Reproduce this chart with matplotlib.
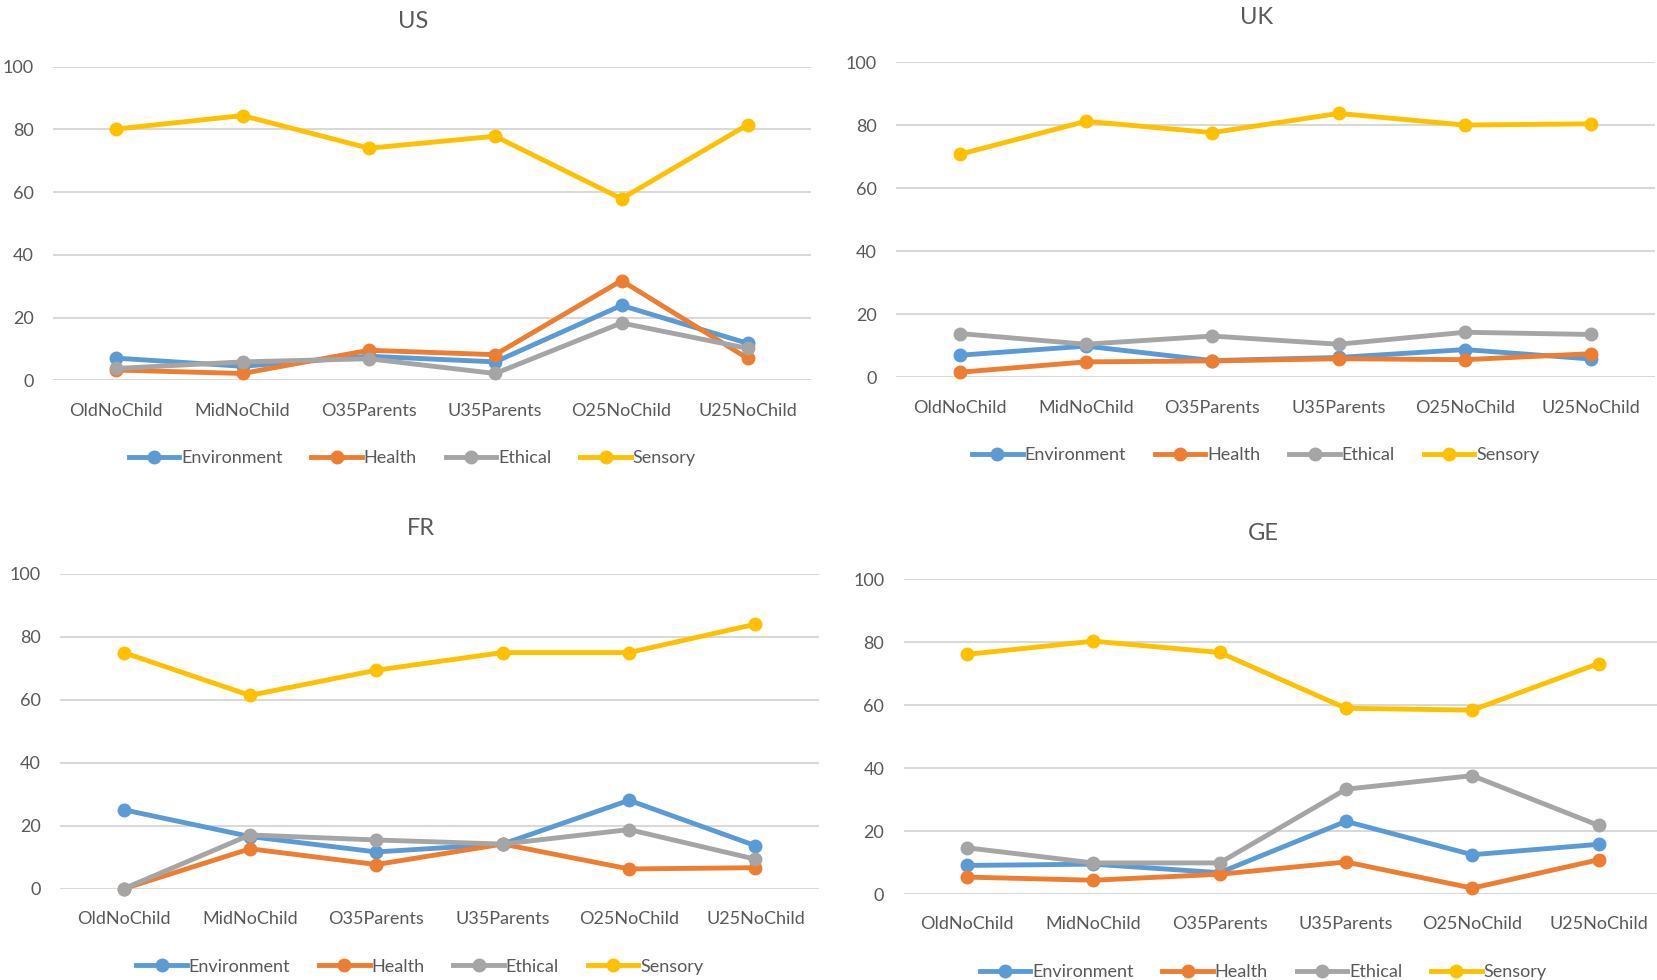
import matplotlib
matplotlib.use("Agg")
import matplotlib.pyplot as plt

categories = ["OldNoChild", "MidNoChild", "O35Parents", "U35Parents", "O25NoChild", "U25NoChild"]
series_names = ["Environment", "Health", "Ethical", "Sensory"]

us_environment = [7.1, 4.5, 7.7, 5.9, 23.9, 11.8]
us_health = [3.3, 2.2, 9.6, 8.2, 31.8, 7.0]
us_ethical = [3.8, 5.9, 6.9, 2.2, 18.3, 10.2]
us_sensory = [80.1, 84.4, 74.0, 77.8, 57.9, 81.5]

uk_environment = [7.0, 9.9, 5.3, 6.3, 8.8, 5.8]
uk_health = [1.6, 4.9, 5.2, 5.9, 5.6, 7.5]
uk_ethical = [13.9, 10.5, 13.1, 10.5, 14.3, 13.6]
uk_sensory = [70.8, 81.3, 77.7, 83.8, 80.1, 80.5]

fr_environment = [25.1, 16.6, 11.7, 14.2, 28.1, 13.7]
fr_health = [0.0, 12.7, 7.7, 14.2, 6.3, 6.7]
fr_ethical = [0.0, 17.1, 15.5, 14.2, 18.8, 9.4]
fr_sensory = [75.0, 61.4, 69.4, 75.0, 75.0, 84.0]

ge_environment = [9.1, 9.5, 6.8, 23.1, 12.5, 15.8]
ge_health = [5.4, 4.4, 6.3, 10.2, 1.9, 10.9]
ge_ethical = [14.7, 9.9, 9.9, 33.3, 37.6, 21.8]
ge_sensory = [76.1, 80.3, 76.7, 59.0, 58.4, 73.2]

colors = ["#5B9BD5", "#ED7D31", "#A5A5A5", "#FFC000"]
text_color = "#595959"
font = ["Lato", "DejaVu Sans"]
plt.rcParams["font.family"] = font

W, H = 1657, 980
fig = plt.figure(figsize=(W / 100, H / 100), dpi=100)

def axes_px(left, right, top, bottom):
    return [left / W, 1 - bottom / H, (right - left) / W, (bottom - top) / H]

panels = [
    ("US", axes_px(53, 811, 66.6, 380.4), [us_environment, us_health, us_ethical, us_sensory]),
    ("UK", axes_px(896.4, 1654.5, 62.4, 377.3), [uk_environment, uk_health, uk_ethical, uk_sensory]),
    ("FR", axes_px(60.4, 818.6, 573.8, 888.8), [fr_environment, fr_health, fr_ethical, fr_sensory]),
    ("GE", axes_px(903.8, 1661.8, 579.1, 894.1), [ge_environment, ge_health, ge_ethical, ge_sensory]),
]

x = list(range(len(categories)))
for title, rect, data in panels:
    ax = fig.add_axes(rect)
    handles = []
    for name, vals, c in zip(series_names, data, colors):
        h, = ax.plot(x, vals, color=c, lw=3.5, marker="o", markersize=9,
                     solid_joinstyle="round", clip_on=False, label=name, zorder=3)
        handles.append(h)
    ax.set_xlim(-0.5, len(categories) - 0.5)
    ax.set_ylim(0, 100)
    ax.set_yticks([0, 20, 40, 60, 80, 100])
    ax.set_xticks(x)
    ax.set_xticklabels(categories)
    ax.grid(axis="y", color="#D9D9D9", lw=1.5, zorder=0)
    ax.set_axisbelow(True)
    for s in ax.spines.values():
        s.set_visible(False)
    ax.tick_params(axis="both", length=0, labelsize=13, colors=text_color)
    ax.tick_params(axis="x", pad=16)
    ax.tick_params(axis="y", pad=14)
    ax.set_title(title, fontsize=17, color=text_color, pad=28, x=0.475)
    ax.legend(handles=handles, loc="upper center", bbox_to_anchor=(0.474, -0.17),
              ncol=4, frameon=False, fontsize=13, labelcolor=text_color,
              handlelength=2.8, handletextpad=0.1, columnspacing=1.6)

fig.savefig("out.png", dpi=100)
